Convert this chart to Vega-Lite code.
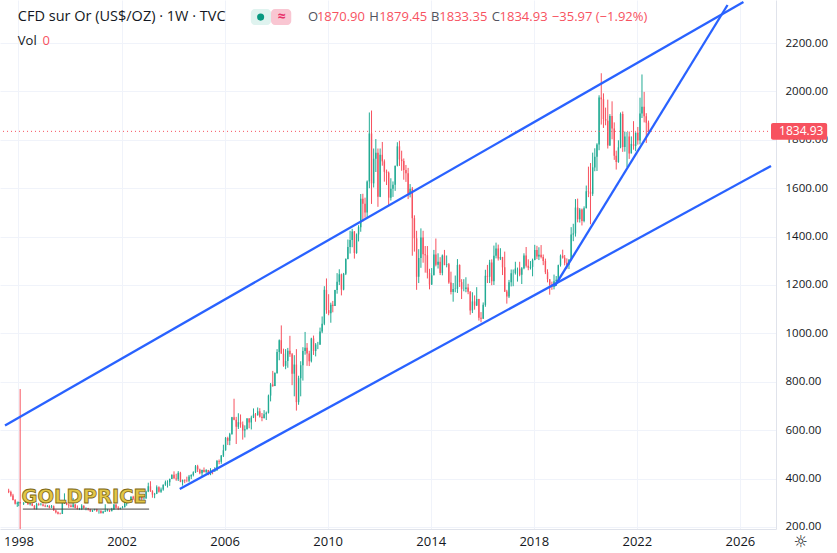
{
  "$schema": "https://vega.github.io/schema/vega-lite/v6.json",
  "width": 776,
  "height": 529,
  "autosize": {"type": "none"},
  "padding": {"left": 0, "top": 0, "right": 61, "bottom": 24},
  "background": "#ffffff",
  "config": {
    "view": {"stroke": null},
    "font": "Open Sans",
    "axis": {"labelFont": "Open Sans", "labelColor": "#131722", "gridColor": "#f0f3fa", "domainColor": "#e0e3eb", "ticks": false, "title": null}
  },
  "datasets": {
    "one": [{}],
    "candles": [
      {"d":"1997-08-15","o":350,"h":358,"l":340,"c":345},
      {"d":"1997-09-15","o":345,"h":350,"l":325,"c":330},
      {"d":"1997-10-15","o":330,"h":337,"l":310,"c":312},
      {"d":"1997-11-15","o":312,"h":315,"l":293,"c":296},
      {"d":"1997-12-15","o":296,"h":305,"l":283,"c":300},
      {"d":"1998-01-05","o":300,"h":305,"l":286,"c":303},
      {"d":"1998-01-25","o":303,"h":770,"l":150,"c":297},
      {"d":"1998-03-15","o":297,"h":302,"l":291,"c":301},
      {"d":"1998-04-15","o":301,"h":316,"l":300,"c":309},
      {"d":"1998-05-15","o":309,"h":311,"l":292,"c":294},
      {"d":"1998-06-15","o":294,"h":300,"l":289,"c":297},
      {"d":"1998-07-15","o":297,"h":298,"l":286,"c":288},
      {"d":"1998-08-15","o":288,"h":290,"l":273,"c":274},
      {"d":"1998-09-15","o":274,"h":300,"l":272,"c":295},
      {"d":"1998-10-15","o":295,"h":300,"l":288,"c":292},
      {"d":"1998-11-15","o":292,"h":300,"l":289,"c":293},
      {"d":"1998-12-15","o":293,"h":298,"l":285,"c":288},
      {"d":"1999-01-15","o":288,"h":293,"l":282,"c":285},
      {"d":"1999-02-15","o":285,"h":291,"l":282,"c":287},
      {"d":"1999-03-15","o":287,"h":290,"l":277,"c":280},
      {"d":"1999-04-15","o":280,"h":291,"l":279,"c":286},
      {"d":"1999-05-15","o":286,"h":289,"l":267,"c":268},
      {"d":"1999-06-15","o":268,"h":272,"l":256,"c":261},
      {"d":"1999-07-15","o":261,"h":264,"l":252,"c":255},
      {"d":"1999-08-15","o":255,"h":259,"l":252,"c":254},
      {"d":"1999-09-15","o":254,"h":300,"l":254,"c":299},
      {"d":"1999-10-15","o":299,"h":339,"l":295,"c":300},
      {"d":"1999-11-15","o":300,"h":302,"l":290,"c":292},
      {"d":"1999-12-15","o":292,"h":296,"l":279,"c":289},
      {"d":"2000-01-15","o":289,"h":294,"l":281,"c":283},
      {"d":"2000-02-15","o":283,"h":320,"l":280,"c":293},
      {"d":"2000-03-15","o":293,"h":295,"l":277,"c":278},
      {"d":"2000-04-15","o":278,"h":289,"l":272,"c":274},
      {"d":"2000-05-15","o":274,"h":279,"l":270,"c":274},
      {"d":"2000-06-15","o":274,"h":294,"l":270,"c":288},
      {"d":"2000-07-15","o":288,"h":290,"l":276,"c":277},
      {"d":"2000-08-15","o":277,"h":281,"l":269,"c":278},
      {"d":"2000-09-15","o":278,"h":279,"l":268,"c":273},
      {"d":"2000-10-15","o":273,"h":275,"l":263,"c":264},
      {"d":"2000-11-15","o":264,"h":271,"l":262,"c":270},
      {"d":"2000-12-15","o":270,"h":275,"l":268,"c":273},
      {"d":"2001-01-15","o":273,"h":275,"l":262,"c":266},
      {"d":"2001-02-15","o":266,"h":269,"l":255,"c":267},
      {"d":"2001-03-15","o":267,"h":269,"l":255,"c":258},
      {"d":"2001-04-15","o":258,"h":267,"l":255,"c":264},
      {"d":"2001-05-15","o":264,"h":294,"l":262,"c":267},
      {"d":"2001-06-15","o":267,"h":275,"l":264,"c":270},
      {"d":"2001-07-15","o":270,"h":272,"l":262,"c":265},
      {"d":"2001-08-15","o":265,"h":279,"l":265,"c":273},
      {"d":"2001-09-15","o":273,"h":295,"l":270,"c":293},
      {"d":"2001-10-15","o":293,"h":294,"l":276,"c":279},
      {"d":"2001-11-15","o":279,"h":286,"l":270,"c":275},
      {"d":"2001-12-15","o":275,"h":280,"l":272,"c":279},
      {"d":"2002-01-15","o":279,"h":287,"l":277,"c":282},
      {"d":"2002-02-15","o":282,"h":304,"l":281,"c":297},
      {"d":"2002-03-15","o":297,"h":305,"l":288,"c":301},
      {"d":"2002-04-15","o":301,"h":312,"l":300,"c":309},
      {"d":"2002-05-15","o":309,"h":327,"l":308,"c":325},
      {"d":"2002-06-15","o":325,"h":329,"l":312,"c":318},
      {"d":"2002-07-15","o":318,"h":327,"l":300,"c":305},
      {"d":"2002-08-15","o":305,"h":315,"l":300,"c":313},
      {"d":"2002-09-15","o":313,"h":327,"l":310,"c":323},
      {"d":"2002-10-15","o":323,"h":325,"l":310,"c":317},
      {"d":"2002-11-15","o":317,"h":322,"l":313,"c":318},
      {"d":"2002-12-15","o":318,"h":350,"l":317,"c":347},
      {"d":"2003-01-15","o":347,"h":383,"l":344,"c":368},
      {"d":"2003-02-15","o":368,"h":389,"l":345,"c":348},
      {"d":"2003-03-15","o":348,"h":352,"l":321,"c":334},
      {"d":"2003-04-15","o":334,"h":341,"l":319,"c":337},
      {"d":"2003-05-15","o":337,"h":372,"l":336,"c":364},
      {"d":"2003-06-15","o":364,"h":368,"l":342,"c":346},
      {"d":"2003-07-15","o":346,"h":363,"l":341,"c":355},
      {"d":"2003-08-15","o":355,"h":376,"l":350,"c":375},
      {"d":"2003-09-15","o":375,"h":392,"l":370,"c":385},
      {"d":"2003-10-15","o":385,"h":393,"l":363,"c":385},
      {"d":"2003-11-15","o":385,"h":400,"l":370,"c":398},
      {"d":"2003-12-15","o":398,"h":417,"l":398,"c":416},
      {"d":"2004-01-15","o":416,"h":430,"l":400,"c":400},
      {"d":"2004-02-15","o":400,"h":420,"l":391,"c":397},
      {"d":"2004-03-15","o":397,"h":431,"l":390,"c":424},
      {"d":"2004-04-15","o":424,"h":428,"l":385,"c":387},
      {"d":"2004-05-15","o":387,"h":396,"l":371,"c":394},
      {"d":"2004-06-15","o":394,"h":397,"l":381,"c":392},
      {"d":"2004-07-15","o":392,"h":408,"l":385,"c":391},
      {"d":"2004-08-15","o":391,"h":415,"l":385,"c":409},
      {"d":"2004-09-15","o":409,"h":418,"l":398,"c":415},
      {"d":"2004-10-15","o":415,"h":430,"l":409,"c":426},
      {"d":"2004-11-15","o":426,"h":456,"l":423,"c":451},
      {"d":"2004-12-15","o":451,"h":457,"l":427,"c":438},
      {"d":"2005-01-15","o":438,"h":441,"l":418,"c":422},
      {"d":"2005-02-15","o":422,"h":437,"l":410,"c":435},
      {"d":"2005-03-15","o":435,"h":446,"l":425,"c":427},
      {"d":"2005-04-15","o":427,"h":439,"l":421,"c":435},
      {"d":"2005-05-15","o":435,"h":436,"l":414,"c":417},
      {"d":"2005-06-15","o":417,"h":443,"l":414,"c":436},
      {"d":"2005-07-15","o":436,"h":437,"l":418,"c":429},
      {"d":"2005-08-15","o":429,"h":447,"l":429,"c":433},
      {"d":"2005-09-15","o":433,"h":477,"l":433,"c":473},
      {"d":"2005-10-15","o":473,"h":479,"l":459,"c":470},
      {"d":"2005-11-15","o":470,"h":497,"l":461,"c":495},
      {"d":"2005-12-15","o":495,"h":540,"l":489,"c":517},
      {"d":"2006-01-15","o":517,"h":572,"l":515,"c":568},
      {"d":"2006-02-15","o":568,"h":573,"l":539,"c":556},
      {"d":"2006-03-15","o":556,"h":589,"l":538,"c":583},
      {"d":"2006-04-15","o":583,"h":655,"l":582,"c":654},
      {"d":"2006-05-15","o":654,"h":730,"l":641,"c":643},
      {"d":"2006-06-15","o":643,"h":655,"l":543,"c":614},
      {"d":"2006-07-15","o":614,"h":670,"l":605,"c":633},
      {"d":"2006-08-15","o":633,"h":665,"l":610,"c":624},
      {"d":"2006-09-15","o":624,"h":636,"l":561,"c":599},
      {"d":"2006-10-15","o":599,"h":620,"l":570,"c":604},
      {"d":"2006-11-15","o":604,"h":650,"l":603,"c":648},
      {"d":"2006-12-15","o":648,"h":650,"l":608,"c":632},
      {"d":"2007-01-15","o":632,"h":660,"l":603,"c":652},
      {"d":"2007-02-15","o":652,"h":690,"l":650,"c":665},
      {"d":"2007-03-15","o":665,"h":671,"l":635,"c":662},
      {"d":"2007-04-15","o":662,"h":694,"l":660,"c":678},
      {"d":"2007-05-15","o":678,"h":691,"l":652,"c":656},
      {"d":"2007-06-15","o":656,"h":671,"l":637,"c":650},
      {"d":"2007-07-15","o":650,"h":683,"l":648,"c":666},
      {"d":"2007-08-15","o":666,"h":677,"l":642,"c":672},
      {"d":"2007-09-15","o":672,"h":747,"l":669,"c":743},
      {"d":"2007-10-15","o":743,"h":795,"l":719,"c":789},
      {"d":"2007-11-15","o":789,"h":845,"l":779,"c":783},
      {"d":"2007-12-15","o":783,"h":839,"l":782,"c":836},
      {"d":"2008-01-15","o":836,"h":935,"l":833,"c":923},
      {"d":"2008-02-15","o":923,"h":975,"l":889,"c":972},
      {"d":"2008-03-15","o":972,"h":1033,"l":917,"c":916},
      {"d":"2008-04-15","o":916,"h":937,"l":862,"c":866},
      {"d":"2008-05-15","o":866,"h":935,"l":852,"c":886},
      {"d":"2008-06-15","o":886,"h":940,"l":858,"c":928},
      {"d":"2008-07-15","o":928,"h":990,"l":903,"c":914},
      {"d":"2008-08-15","o":914,"h":919,"l":786,"c":833},
      {"d":"2008-09-15","o":833,"h":910,"l":740,"c":871},
      {"d":"2008-10-15","o":871,"h":935,"l":681,"c":716},
      {"d":"2008-11-15","o":716,"h":825,"l":705,"c":815},
      {"d":"2008-12-15","o":815,"h":885,"l":740,"c":868},
      {"d":"2009-01-15","o":868,"h":943,"l":805,"c":927},
      {"d":"2009-02-15","o":927,"h":1006,"l":912,"c":941},
      {"d":"2009-03-15","o":941,"h":960,"l":866,"c":917},
      {"d":"2009-04-15","o":917,"h":928,"l":865,"c":885},
      {"d":"2009-05-15","o":885,"h":982,"l":880,"c":979},
      {"d":"2009-06-15","o":979,"h":991,"l":911,"c":927},
      {"d":"2009-07-15","o":927,"h":960,"l":905,"c":954},
      {"d":"2009-08-15","o":954,"h":965,"l":935,"c":954},
      {"d":"2009-09-15","o":954,"h":1024,"l":952,"c":1008},
      {"d":"2009-10-15","o":1008,"h":1070,"l":1001,"c":1040},
      {"d":"2009-11-15","o":1040,"h":1195,"l":1034,"c":1180},
      {"d":"2009-12-15","o":1180,"h":1227,"l":1081,"c":1096},
      {"d":"2010-01-15","o":1096,"h":1162,"l":1075,"c":1083},
      {"d":"2010-02-15","o":1083,"h":1127,"l":1044,"c":1118},
      {"d":"2010-03-15","o":1118,"h":1134,"l":1087,"c":1113},
      {"d":"2010-04-15","o":1113,"h":1180,"l":1113,"c":1179},
      {"d":"2010-05-15","o":1179,"h":1249,"l":1164,"c":1213},
      {"d":"2010-06-15","o":1213,"h":1265,"l":1200,"c":1244},
      {"d":"2010-07-15","o":1244,"h":1247,"l":1157,"c":1181},
      {"d":"2010-08-15","o":1181,"h":1250,"l":1178,"c":1246},
      {"d":"2010-09-15","o":1246,"h":1310,"l":1241,"c":1307},
      {"d":"2010-10-15","o":1307,"h":1388,"l":1306,"c":1357},
      {"d":"2010-11-15","o":1357,"h":1424,"l":1330,"c":1386},
      {"d":"2010-12-15","o":1386,"h":1432,"l":1356,"c":1421},
      {"d":"2011-01-15","o":1421,"h":1423,"l":1309,"c":1332},
      {"d":"2011-02-15","o":1332,"h":1413,"l":1329,"c":1409},
      {"d":"2011-03-15","o":1409,"h":1447,"l":1380,"c":1439},
      {"d":"2011-04-15","o":1439,"h":1576,"l":1420,"c":1556},
      {"d":"2011-05-15","o":1556,"h":1577,"l":1462,"c":1536},
      {"d":"2011-06-15","o":1536,"h":1561,"l":1478,"c":1500},
      {"d":"2011-07-15","o":1500,"h":1632,"l":1480,"c":1628},
      {"d":"2011-08-15","o":1628,"h":1913,"l":1600,"c":1826},
      {"d":"2011-09-15","o":1826,"h":1921,"l":1535,"c":1620},
      {"d":"2011-10-15","o":1620,"h":1764,"l":1603,"c":1722},
      {"d":"2011-11-15","o":1722,"h":1803,"l":1667,"c":1746},
      {"d":"2011-12-15","o":1746,"h":1764,"l":1523,"c":1565},
      {"d":"2012-01-15","o":1565,"h":1764,"l":1563,"c":1738},
      {"d":"2012-02-15","o":1738,"h":1791,"l":1693,"c":1711},
      {"d":"2012-03-15","o":1711,"h":1719,"l":1627,"c":1668},
      {"d":"2012-04-15","o":1668,"h":1677,"l":1613,"c":1664},
      {"d":"2012-05-15","o":1664,"h":1669,"l":1527,"c":1561},
      {"d":"2012-06-15","o":1561,"h":1641,"l":1549,"c":1598},
      {"d":"2012-07-15","o":1598,"h":1628,"l":1564,"c":1614},
      {"d":"2012-08-15","o":1614,"h":1693,"l":1589,"c":1693},
      {"d":"2012-09-15","o":1693,"h":1790,"l":1690,"c":1773},
      {"d":"2012-10-15","o":1773,"h":1796,"l":1692,"c":1719},
      {"d":"2012-11-15","o":1719,"h":1755,"l":1672,"c":1712},
      {"d":"2012-12-15","o":1712,"h":1723,"l":1635,"c":1675},
      {"d":"2013-01-15","o":1675,"h":1696,"l":1626,"c":1662},
      {"d":"2013-02-15","o":1662,"h":1684,"l":1555,"c":1578},
      {"d":"2013-03-15","o":1578,"h":1617,"l":1562,"c":1598},
      {"d":"2013-04-15","o":1598,"h":1605,"l":1321,"c":1476},
      {"d":"2013-05-15","o":1476,"h":1488,"l":1338,"c":1393},
      {"d":"2013-06-15","o":1393,"h":1424,"l":1180,"c":1234},
      {"d":"2013-07-15","o":1234,"h":1348,"l":1208,"c":1312},
      {"d":"2013-08-15","o":1312,"h":1434,"l":1271,"c":1396},
      {"d":"2013-09-15","o":1396,"h":1424,"l":1292,"c":1327},
      {"d":"2013-10-15","o":1327,"h":1361,"l":1251,"c":1323},
      {"d":"2013-11-15","o":1323,"h":1361,"l":1227,"c":1250},
      {"d":"2013-12-15","o":1250,"h":1267,"l":1182,"c":1202},
      {"d":"2014-01-15","o":1202,"h":1270,"l":1200,"c":1240},
      {"d":"2014-02-15","o":1240,"h":1345,"l":1240,"c":1326},
      {"d":"2014-03-15","o":1326,"h":1392,"l":1277,"c":1284},
      {"d":"2014-04-15","o":1284,"h":1331,"l":1268,"c":1296},
      {"d":"2014-05-15","o":1296,"h":1315,"l":1241,"c":1250},
      {"d":"2014-06-15","o":1250,"h":1326,"l":1240,"c":1322},
      {"d":"2014-07-15","o":1322,"h":1345,"l":1282,"c":1282},
      {"d":"2014-08-15","o":1282,"h":1322,"l":1273,"c":1286},
      {"d":"2014-09-15","o":1286,"h":1291,"l":1205,"c":1210},
      {"d":"2014-10-15","o":1210,"h":1255,"l":1161,"c":1171},
      {"d":"2014-11-15","o":1171,"h":1208,"l":1131,"c":1183},
      {"d":"2014-12-15","o":1183,"h":1239,"l":1170,"c":1184},
      {"d":"2015-01-15","o":1184,"h":1307,"l":1167,"c":1283},
      {"d":"2015-02-15","o":1283,"h":1285,"l":1192,"c":1212},
      {"d":"2015-03-15","o":1212,"h":1224,"l":1142,"c":1183},
      {"d":"2015-04-15","o":1183,"h":1224,"l":1174,"c":1183},
      {"d":"2015-05-15","o":1183,"h":1232,"l":1170,"c":1190},
      {"d":"2015-06-15","o":1190,"h":1205,"l":1162,"c":1172},
      {"d":"2015-07-15","o":1172,"h":1175,"l":1077,"c":1095},
      {"d":"2015-08-15","o":1095,"h":1170,"l":1084,"c":1132},
      {"d":"2015-09-15","o":1132,"h":1157,"l":1098,"c":1115},
      {"d":"2015-10-15","o":1115,"h":1191,"l":1113,"c":1142},
      {"d":"2015-11-15","o":1142,"h":1143,"l":1053,"c":1065},
      {"d":"2015-12-15","o":1065,"h":1088,"l":1046,"c":1061},
      {"d":"2016-01-15","o":1061,"h":1128,"l":1060,"c":1118},
      {"d":"2016-02-15","o":1118,"h":1263,"l":1110,"c":1238},
      {"d":"2016-03-15","o":1238,"h":1283,"l":1208,"c":1234},
      {"d":"2016-04-15","o":1234,"h":1304,"l":1208,"c":1293},
      {"d":"2016-05-15","o":1293,"h":1306,"l":1199,"c":1215},
      {"d":"2016-06-15","o":1215,"h":1363,"l":1200,"c":1321},
      {"d":"2016-07-15","o":1321,"h":1375,"l":1310,"c":1351},
      {"d":"2016-08-15","o":1351,"h":1367,"l":1301,"c":1309},
      {"d":"2016-09-15","o":1309,"h":1352,"l":1303,"c":1316},
      {"d":"2016-10-15","o":1316,"h":1316,"l":1241,"c":1273},
      {"d":"2016-11-15","o":1273,"h":1338,"l":1171,"c":1173},
      {"d":"2016-12-15","o":1173,"h":1180,"l":1123,"c":1152},
      {"d":"2017-01-15","o":1152,"h":1221,"l":1146,"c":1211},
      {"d":"2017-02-15","o":1211,"h":1264,"l":1194,"c":1249},
      {"d":"2017-03-15","o":1249,"h":1264,"l":1195,"c":1249},
      {"d":"2017-04-15","o":1249,"h":1296,"l":1243,"c":1268},
      {"d":"2017-05-15","o":1268,"h":1272,"l":1214,"c":1268},
      {"d":"2017-06-15","o":1268,"h":1296,"l":1236,"c":1242},
      {"d":"2017-07-15","o":1242,"h":1274,"l":1204,"c":1269},
      {"d":"2017-08-15","o":1269,"h":1331,"l":1265,"c":1322},
      {"d":"2017-09-15","o":1322,"h":1357,"l":1272,"c":1280},
      {"d":"2017-10-15","o":1280,"h":1306,"l":1261,"c":1271},
      {"d":"2017-11-15","o":1271,"h":1299,"l":1264,"c":1275},
      {"d":"2017-12-15","o":1275,"h":1309,"l":1236,"c":1303},
      {"d":"2018-01-15","o":1303,"h":1366,"l":1302,"c":1345},
      {"d":"2018-02-15","o":1345,"h":1362,"l":1307,"c":1318},
      {"d":"2018-03-15","o":1318,"h":1356,"l":1303,"c":1325},
      {"d":"2018-04-15","o":1325,"h":1365,"l":1310,"c":1316},
      {"d":"2018-05-15","o":1316,"h":1326,"l":1282,"c":1299},
      {"d":"2018-06-15","o":1299,"h":1309,"l":1245,"c":1253},
      {"d":"2018-07-15","o":1253,"h":1265,"l":1211,"c":1224},
      {"d":"2018-08-15","o":1224,"h":1224,"l":1160,"c":1201},
      {"d":"2018-09-15","o":1201,"h":1214,"l":1180,"c":1192},
      {"d":"2018-10-15","o":1192,"h":1243,"l":1182,"c":1215},
      {"d":"2018-11-15","o":1215,"h":1237,"l":1196,"c":1222},
      {"d":"2018-12-15","o":1222,"h":1284,"l":1221,"c":1282},
      {"d":"2019-01-15","o":1282,"h":1326,"l":1276,"c":1321},
      {"d":"2019-02-15","o":1321,"h":1346,"l":1309,"c":1313},
      {"d":"2019-03-15","o":1313,"h":1324,"l":1281,"c":1292},
      {"d":"2019-04-15","o":1292,"h":1310,"l":1266,"c":1284},
      {"d":"2019-05-15","o":1284,"h":1306,"l":1266,"c":1305},
      {"d":"2019-06-15","o":1305,"h":1439,"l":1301,"c":1409},
      {"d":"2019-07-15","o":1409,"h":1453,"l":1381,"c":1413},
      {"d":"2019-08-15","o":1413,"h":1555,"l":1400,"c":1520},
      {"d":"2019-09-15","o":1520,"h":1557,"l":1459,"c":1472},
      {"d":"2019-10-15","o":1472,"h":1518,"l":1458,"c":1512},
      {"d":"2019-11-15","o":1512,"h":1516,"l":1446,"c":1464},
      {"d":"2019-12-15","o":1464,"h":1525,"l":1459,"c":1517},
      {"d":"2020-01-15","o":1517,"h":1611,"l":1517,"c":1587},
      {"d":"2020-02-15","o":1587,"h":1689,"l":1563,"c":1585},
      {"d":"2020-03-15","o":1585,"h":1704,"l":1451,"c":1577},
      {"d":"2020-04-15","o":1577,"h":1747,"l":1568,"c":1686},
      {"d":"2020-05-15","o":1686,"h":1765,"l":1670,"c":1730},
      {"d":"2020-06-15","o":1730,"h":1786,"l":1671,"c":1781},
      {"d":"2020-07-15","o":1781,"h":1984,"l":1757,"c":1975},
      {"d":"2020-08-15","o":1975,"h":2075,"l":1863,"c":1968},
      {"d":"2020-09-15","o":1968,"h":1992,"l":1849,"c":1886},
      {"d":"2020-10-15","o":1886,"h":1933,"l":1860,"c":1879},
      {"d":"2020-11-15","o":1879,"h":1966,"l":1764,"c":1776},
      {"d":"2020-12-15","o":1776,"h":1906,"l":1775,"c":1898},
      {"d":"2021-01-15","o":1898,"h":1959,"l":1802,"c":1847},
      {"d":"2021-02-15","o":1847,"h":1872,"l":1717,"c":1734},
      {"d":"2021-03-15","o":1734,"h":1755,"l":1677,"c":1708},
      {"d":"2021-04-15","o":1708,"h":1798,"l":1705,"c":1769},
      {"d":"2021-05-15","o":1769,"h":1913,"l":1765,"c":1907},
      {"d":"2021-06-15","o":1907,"h":1917,"l":1750,"c":1770},
      {"d":"2021-07-15","o":1770,"h":1834,"l":1751,"c":1814},
      {"d":"2021-08-15","o":1814,"h":1832,"l":1687,"c":1814},
      {"d":"2021-09-15","o":1814,"h":1834,"l":1721,"c":1743},
      {"d":"2021-10-15","o":1743,"h":1814,"l":1746,"c":1783},
      {"d":"2021-11-15","o":1783,"h":1877,"l":1759,"c":1774},
      {"d":"2021-12-15","o":1774,"h":1831,"l":1753,"c":1829},
      {"d":"2022-01-15","o":1829,"h":1853,"l":1780,"c":1797},
      {"d":"2022-02-15","o":1797,"h":1974,"l":1781,"c":1909},
      {"d":"2022-03-15","o":1909,"h":2070,"l":1890,"c":1937},
      {"d":"2022-04-15","o":1937,"h":1998,"l":1872,"c":1897},
      {"d":"2022-05-15","o":1897,"h":1910,"l":1787,"c":1870.9},
      {"d":"2022-06-15","o":1870.9,"h":1879.45,"l":1833.35,"c":1834.93}
    ],
    "trend": [
      {"id":"upper","d":"1997-06-24","v":619},
      {"id":"upper","d":"2026-02-20","v":2369},
      {"id":"lower","d":"2004-04-05","v":357},
      {"id":"lower","d":"2027-03-18","v":1692},
      {"id":"steep","d":"2018-10-27","v":1196},
      {"id":"steep","d":"2025-07-10","v":2357}
    ]
  },
  "layer": [
    {
      "data": {"name": "candles"},
      "mark": {"type": "rule", "clip": true, "strokeWidth": 1},
      "encoding": {
        "x": {
          "field": "d", "type": "temporal",
          "scale": {"domain": [{"year": 1997, "month": 6, "date": 24}, {"year": 2027, "month": 3, "date": 18}]},
          "axis": {
            "orient": "bottom",
            "values": [
              {"year": 1998, "month": 1, "date": 1}, {"year": 2002, "month": 1, "date": 1},
              {"year": 2006, "month": 1, "date": 1}, {"year": 2010, "month": 1, "date": 1},
              {"year": 2014, "month": 1, "date": 1}, {"year": 2018, "month": 1, "date": 1},
              {"year": 2022, "month": 1, "date": 1}, {"year": 2026, "month": 1, "date": 1}
            ],
            "format": "%Y", "labelFontSize": 13, "labelPadding": 6, "labelFlush": false, "labelOverlap": false
          }
        },
        "y": {
          "field": "l", "type": "quantitative",
          "scale": {"domain": [191.7, 2377.7], "zero": false, "nice": false},
          "axis": {
            "orient": "right",
            "values": [200, 400, 600, 800, 1000, 1200, 1400, 1600, 1800, 2000, 2200],
            "format": ".2f", "labelFontSize": 11.5, "labelPadding": 9, "labelFlush": false, "labelOverlap": false
          }
        },
        "y2": {"field": "h"},
        "color": {"condition": {"test": "datum.c >= datum.o", "value": "#22ab94"}, "value": "#f7525f"}
      }
    },
    {
      "data": {"name": "candles"},
      "mark": {"type": "bar", "width": 1.4, "clip": true},
      "encoding": {
        "x": {"field": "d", "type": "temporal"},
        "y": {"field": "o", "type": "quantitative"},
        "y2": {"field": "c"},
        "color": {"condition": {"test": "datum.c >= datum.o", "value": "#22ab94"}, "value": "#f7525f"}
      }
    },
    {
      "data": {"name": "one"},
      "mark": {"type": "rule", "color": "#f7525f", "strokeWidth": 1, "strokeDash": [1, 3]},
      "encoding": {"y": {"datum": 1834.93}}
    },
    {
      "data": {"name": "trend"},
      "mark": {"type": "line", "color": "#2962ff", "strokeWidth": 2.3},
      "encoding": {
        "x": {"field": "d", "type": "temporal"},
        "y": {"field": "v", "type": "quantitative"},
        "detail": {"field": "id"}
      }
    },
    {
      "data": {"name": "one"},
      "mark": {"type": "text", "text": "GOLDPRICE", "font": "DejaVu Sans", "fontWeight": "bold", "fontSize": 19.5, "fill": "#e2c646", "stroke": "#7d6716", "strokeWidth": 0.8, "align": "center", "baseline": "middle"},
      "encoding": {"x": {"datum": {"year": 2000, "month": 7, "date": 20}}, "y": {"datum": 324}}
    },
    {
      "data": {"name": "one"},
      "mark": {"type": "rule", "color": "#444444", "strokeWidth": 1},
      "encoding": {"x": {"datum": {"year": 1998, "month": 3, "date": 4}}, "x2": {"datum": {"year": 2003, "month": 1, "date": 27}}, "y": {"datum": 274}}
    },
    {
      "data": {"name": "one"},
      "mark": {"type": "text", "text": "CFD sur Or (US$/OZ) · 1W · TVC", "fontSize": 14.5, "color": "#131722", "align": "left", "baseline": "middle"},
      "encoding": {"x": {"datum": {"year": 1997, "month": 12, "date": 23}}, "y": {"datum": 2307}}
    },
    {
      "data": {"name": "one"},
      "mark": {"type": "rect", "color": "#dff3ef", "cornerRadius": 4},
      "encoding": {"x": {"datum": {"year": 2007, "month": 1, "date": 8}}, "x2": {"datum": {"year": 2007, "month": 10, "date": 21}}, "y": {"datum": 2340}, "y2": {"datum": 2274}}
    },
    {
      "data": {"name": "one"},
      "mark": {"type": "rect", "color": "#f9c6d2", "cornerRadius": 4},
      "encoding": {"x": {"datum": {"year": 2007, "month": 10, "date": 21}}, "x2": {"datum": {"year": 2008, "month": 8, "date": 3}}, "y": {"datum": 2340}, "y2": {"datum": 2274}}
    },
    {
      "data": {"name": "one"},
      "mark": {"type": "point", "shape": "circle", "filled": true, "size": 50, "color": "#089981", "opacity": 1},
      "encoding": {"x": {"datum": {"year": 2007, "month": 5, "date": 27}}, "y": {"datum": 2307}}
    },
    {
      "data": {"name": "one"},
      "mark": {"type": "text", "text": "≈", "fontSize": 14, "fontWeight": "bold", "color": "#e8336b", "align": "center", "baseline": "middle"},
      "encoding": {"x": {"datum": {"year": 2008, "month": 3, "date": 17}}, "y": {"datum": 2307}}
    },
    {
      "data": {"name": "one"},
      "mark": {"type": "text", "text": "O", "fontSize": 13, "color": "#50535e", "align": "left", "baseline": "middle"},
      "encoding": {"x": {"datum": {"year": 2009, "month": 3, "date": 29}}, "y": {"datum": 2307}}
    },
    {
      "data": {"name": "one"},
      "mark": {"type": "text", "text": "1870.90", "fontSize": 13, "color": "#f7525f", "align": "left", "baseline": "middle"},
      "encoding": {"x": {"datum": {"year": 2009, "month": 8, "date": 2}}, "y": {"datum": 2307}}
    },
    {
      "data": {"name": "one"},
      "mark": {"type": "text", "text": "H", "fontSize": 13, "color": "#50535e", "align": "left", "baseline": "middle"},
      "encoding": {"x": {"datum": {"year": 2011, "month": 8, "date": 13}}, "y": {"datum": 2307}}
    },
    {
      "data": {"name": "one"},
      "mark": {"type": "text", "text": "1879.45", "fontSize": 13, "color": "#f7525f", "align": "left", "baseline": "middle"},
      "encoding": {"x": {"datum": {"year": 2012, "month": 1, "date": 1}}, "y": {"datum": 2307}}
    },
    {
      "data": {"name": "one"},
      "mark": {"type": "text", "text": "B", "fontSize": 13, "color": "#50535e", "align": "left", "baseline": "middle"},
      "encoding": {"x": {"datum": {"year": 2014, "month": 1, "date": 5}}, "y": {"datum": 2307}}
    },
    {
      "data": {"name": "one"},
      "mark": {"type": "text", "text": "1833.35", "fontSize": 13, "color": "#f7525f", "align": "left", "baseline": "middle"},
      "encoding": {"x": {"datum": {"year": 2014, "month": 5, "date": 3}}, "y": {"datum": 2307}}
    },
    {
      "data": {"name": "one"},
      "mark": {"type": "text", "text": "C", "fontSize": 13, "color": "#50535e", "align": "left", "baseline": "middle"},
      "encoding": {"x": {"datum": {"year": 2016, "month": 5, "date": 14}}, "y": {"datum": 2307}}
    },
    {
      "data": {"name": "one"},
      "mark": {"type": "text", "text": "1834.93", "fontSize": 13, "color": "#f7525f", "align": "left", "baseline": "middle"},
      "encoding": {"x": {"datum": {"year": 2016, "month": 9, "date": 3}}, "y": {"datum": 2307}}
    },
    {
      "data": {"name": "one"},
      "mark": {"type": "text", "text": "−35.97 (−1.92%)", "fontSize": 13, "color": "#f7525f", "align": "left", "baseline": "middle"},
      "encoding": {"x": {"datum": {"year": 2018, "month": 9, "date": 14}}, "y": {"datum": 2307}}
    },
    {
      "data": {"name": "one"},
      "mark": {"type": "text", "text": "Vol", "fontSize": 13, "color": "#131722", "align": "left", "baseline": "middle"},
      "encoding": {"x": {"datum": {"year": 1997, "month": 12, "date": 23}}, "y": {"datum": 2208}}
    },
    {
      "data": {"name": "one"},
      "mark": {"type": "text", "text": "0", "fontSize": 13, "color": "#f7525f", "align": "left", "baseline": "middle"},
      "encoding": {"x": {"datum": {"year": 1998, "month": 12, "date": 7}}, "y": {"datum": 2208}}
    },
    {
      "data": {"name": "one"},
      "mark": {"type": "rect", "color": "#f7525f", "cornerRadius": 2},
      "encoding": {"x": {"datum": {"year": 2027, "month": 3, "date": 18}}, "x2": {"datum": {"year": 2029, "month": 5, "date": 22}}, "y": {"datum": 1869}, "y2": {"datum": 1800}}
    },
    {
      "data": {"name": "one"},
      "mark": {"type": "text", "text": "1834.93", "fontSize": 12, "color": "#ffffff", "align": "left", "baseline": "middle"},
      "encoding": {"x": {"datum": {"year": 2027, "month": 7, "date": 10}}, "y": {"datum": 1834.93}}
    },
    {
      "data": {"name": "one"},
      "mark": {"type": "text", "text": "☼", "font": "DejaVu Sans", "fontSize": 16, "color": "#131722", "align": "center", "baseline": "middle"},
      "encoding": {"x": {"datum": {"year": 2028, "month": 5, "date": 10}}, "y": {"datum": 136}}
    }
  ]
}
